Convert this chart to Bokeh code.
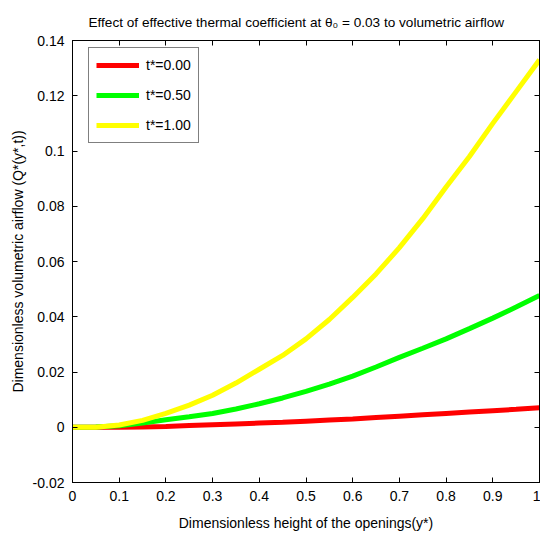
from bokeh.plotting import figure
from bokeh.models import LinearAxis, Range1d, FixedTicker, Legend, LegendItem
from bokeh.embed import file_html
from bokeh.resources import INLINE

# ---- data ----
y_star = [0.0, 0.05, 0.1, 0.15, 0.2, 0.25, 0.3, 0.35, 0.4, 0.45, 0.5,
          0.55, 0.6, 0.65, 0.7, 0.75, 0.8, 0.85, 0.9, 0.95, 1.0]
q_t000 = [0.0, 0.0, 0.0, 0.0001, 0.0003, 0.0006, 0.0009, 0.0012, 0.0015, 0.0018, 0.0022,
          0.0026, 0.0030, 0.0035, 0.0040, 0.0045, 0.0050, 0.0055, 0.0060, 0.0065, 0.0071]
q_t050 = [0.0, 0.0001, 0.0005, 0.0015, 0.0027, 0.0038, 0.0050, 0.0066, 0.0085, 0.0106, 0.0130,
          0.0156, 0.0185, 0.0218, 0.0253, 0.0286, 0.0320, 0.0357, 0.0395, 0.0435, 0.0477]
q_t100 = [0.0, 0.0, 0.0008, 0.0025, 0.0050, 0.0080, 0.0116, 0.0160, 0.0210, 0.0260, 0.0320,
          0.0390, 0.0470, 0.0555, 0.0650, 0.0755, 0.0870, 0.0980, 0.1100, 0.1215, 0.1330]
series_labels = ["t*=0.00", "t*=0.50", "t*=1.00"]
series_colors = ["#ff0000", "#00ff00", "#ffff00"]

x_ticks = [0.0, 0.1, 0.2, 0.3, 0.4, 0.5, 0.6, 0.7, 0.8, 0.9, 1.0]
x_tick_labels = ["0", "0.1", "0.2", "0.3", "0.4", "0.5", "0.6", "0.7", "0.8", "0.9", "1"]
y_ticks = [-0.02, 0.0, 0.02, 0.04, 0.06, 0.08, 0.1, 0.12, 0.14]
y_tick_labels = ["-0.02", "0", "0.02", "0.04", "0.06", "0.08", "0.1", "0.12", "0.14"]
title_text = "Effect of effective thermal coefficient at \u03b8\u2080 = 0.03 to volumetric airflow"

FONT = "Liberation Sans"

p = figure(width=540, height=541, output_backend="svg", toolbar_location=None,
           x_range=Range1d(0, 1), y_range=Range1d(-0.02, 0.14),
           min_border_left=72, min_border_right=1, min_border_top=40, min_border_bottom=59)
p.grid.visible = False
p.outline_line_color = "black"
p.background_fill_color = "white"
p.border_fill_color = "white"

p.title.text = title_text
p.title.align = "left"
p.title.offset = 16
p.title.standoff = 22
p.title.text_font = FONT
p.title.text_font_size = "13.6px"
p.title.text_font_style = "normal"
p.title.text_color = "black"

def style_axis(ax, ticks, labels, show_labels=True):
    ax.ticker = FixedTicker(ticks=ticks)
    ax.major_tick_in = 5
    ax.major_tick_out = 0
    ax.minor_tick_line_color = None
    ax.axis_line_color = "black"
    ax.major_tick_line_color = "black"
    ax.major_label_text_font = FONT
    ax.major_label_text_font_size = "14px"
    ax.major_label_text_color = "black"
    ax.axis_label_text_font = FONT
    ax.axis_label_text_font_size = "14px"
    ax.axis_label_text_font_style = "normal"
    ax.axis_label_text_color = "black"
    if show_labels:
        ax.major_label_overrides = {t: l for t, l in zip(ticks, labels)}
    else:
        ax.major_label_text_font_size = "1px"
        ax.major_label_text_color = None
        ax.major_label_standoff = 0

style_axis(p.xaxis[0], x_ticks, x_tick_labels)
style_axis(p.yaxis[0], y_ticks, y_tick_labels)
p.xaxis[0].axis_label = "Dimensionless height of the openings(y*)"
p.yaxis[0].axis_label = "Dimensionless volumetric airflow (Q*(y*,t))"
p.xaxis[0].major_label_standoff = 8
p.yaxis[0].major_label_standoff = 8
p.xaxis[0].axis_label_standoff = 11
p.yaxis[0].axis_label_standoff = 4

top_ax = LinearAxis()
style_axis(top_ax, x_ticks, x_tick_labels, show_labels=False)
p.add_layout(top_ax, "above")
right_ax = LinearAxis()
style_axis(right_ax, y_ticks, y_tick_labels, show_labels=False)
p.add_layout(right_ax, "right")

renderers = []
for ys, col in zip([q_t000, q_t050, q_t100], series_colors):
    r = p.line(y_star, ys, line_color=col, line_width=5)
    renderers.append(r)

legend = Legend(items=[LegendItem(label=l, renderers=[r]) for l, r in zip(series_labels, renderers)],
                location=(16, 339), orientation="vertical",
                glyph_width=43, glyph_height=20, label_height=20, spacing=10,
                padding=7, margin=0, label_standoff=7,
                label_text_font=FONT, label_text_font_size="14px", label_text_color="black",
                border_line_color="black", border_line_width=1,
                background_fill_color="white", background_fill_alpha=1.0)
p.add_layout(legend, "center")

open("out.html", "w").write(file_html(p, INLINE))
